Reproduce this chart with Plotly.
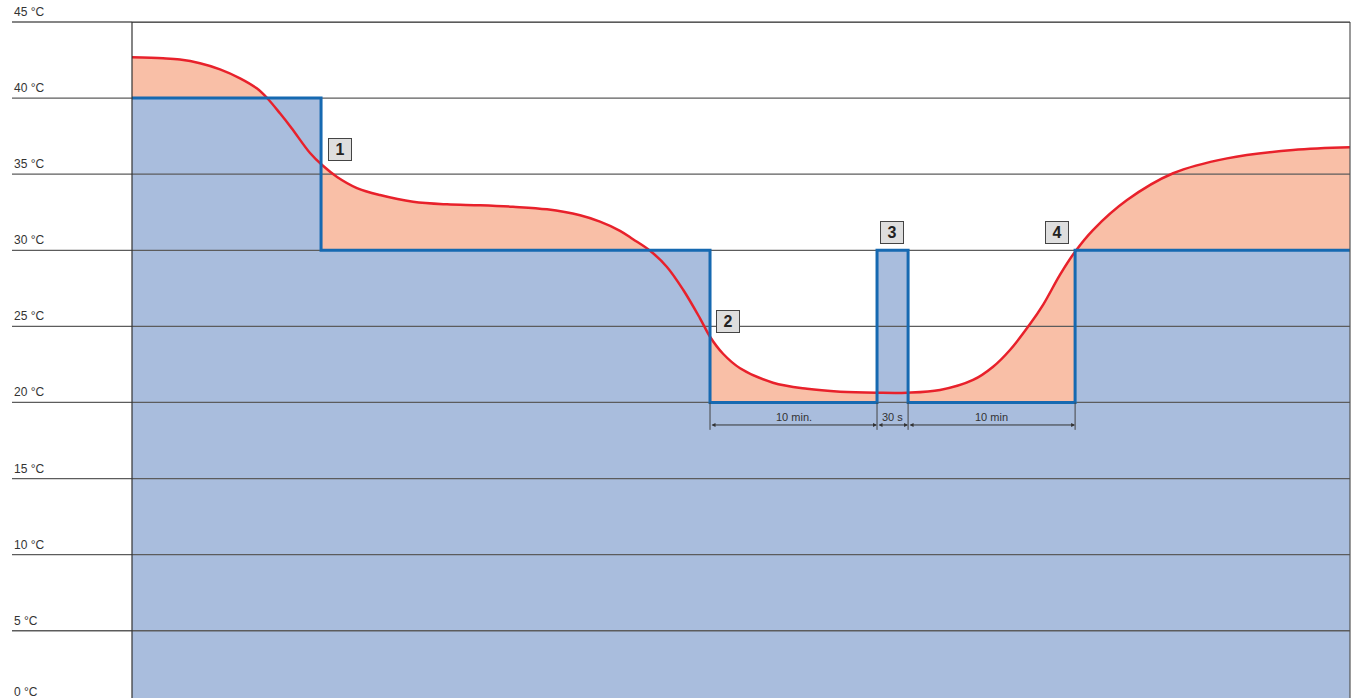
import plotly.graph_objects as go

# ---- data (time in minutes, schematic; temperatures in °C) ----
curve_t = [0, 1.86, 2.87, 4.07, 5.27, 6.47, 7.47, 8.10, 8.86, 9.56, 10.66, 11.38, 12.28, 13.47, 14.85,
           16.83, 18.86, 20.84, 22.81, 24.85, 26.83, 28.02, 29.22, 30.0, 31.02, 32.02, 33.01, 34.01,
           34.61, 35.39, 36.41, 38.38, 40.42, 42.40, 44.61, 46.41, 48.38, 50.36, 51.56, 52.57,
           53.77, 54.57, 55.57, 56.47, 57.54, 59.58, 62.34, 65.57, 69.52, 72.93]
curve_temp = [42.68, 42.61, 42.53, 42.29, 41.89, 41.30, 40.64, 39.99, 39.00, 38.02, 36.39, 35.60, 34.82, 34.09, 33.63,
              33.19, 33.02, 32.96, 32.86, 32.69, 32.30, 31.88, 31.28, 30.73, 29.97, 28.92, 27.39, 25.53,
              24.32, 23.20, 22.25, 21.30, 20.90, 20.71, 20.64, 20.64, 20.82, 21.48, 22.35, 23.45,
              25.15, 26.45, 28.40, 29.91, 31.33, 33.30, 35.06, 36.04, 36.59, 36.77]

step_t = [0, 11.32, 34.61, 44.61, 46.47, 56.47, 72.93]
step_temp = [40, 30, 20, 30, 20, 30, 30]

grid_values = [0, 5, 10, 15, 20, 25, 30, 35, 40, 45]
grid_labels = ["0 °C", "5 °C", "10 °C", "15 °C", "20 °C", "25 °C", "30 °C", "35 °C", "40 °C", "45 °C"]

markers = ["1", "2", "3", "4"]
marker_t = [12.45, 35.7, 45.5, 55.4]
marker_temp = [36.65, 25.35, 31.2, 31.2]

dim_start = [34.61, 44.61, 46.47]
dim_end = [44.61, 46.47, 56.47]
dim_labels = ["10 min.", "30 s", "10 min"]

# ---- styling ----
X_MAX = 72.93
Y_MIN, Y_MAX = 0.58, 45
BLUE_FILL = "#a9bddd"
SALMON = "#f9bfa7"
RED = "#e8212b"
BLUE_LINE = "#1669b1"
GRID = "#5c5c5c"
TXT = "#333333"
FONT = "Liberation Sans, Arial, sans-serif"
SMOOTH = 1.0

fig = go.Figure()

# salmon under the curve
fig.add_trace(go.Scatter(x=curve_t, y=curve_temp, mode="lines",
                         line=dict(width=0, shape="spline", smoothing=SMOOTH),
                         fill="tozeroy", fillcolor=SALMON, hoverinfo="skip", showlegend=False))
# blue under the step
fig.add_trace(go.Scatter(x=step_t, y=step_temp, mode="lines", line=dict(width=0, shape="hv"),
                         fill="tozeroy", fillcolor=BLUE_FILL, hoverinfo="skip", showlegend=False))
# gridlines inside the plot
for v in grid_values:
    fig.add_trace(go.Scatter(x=[0, X_MAX], y=[v, v], mode="lines", line=dict(color=GRID, width=1.3),
                             hoverinfo="skip", showlegend=False))
# red curve
fig.add_trace(go.Scatter(x=curve_t, y=curve_temp, mode="lines",
                         line=dict(color=RED, width=2.5, shape="spline", smoothing=SMOOTH),
                         hoverinfo="skip", showlegend=False))
# blue step line
fig.add_trace(go.Scatter(x=step_t, y=step_temp, mode="lines", line=dict(color=BLUE_LINE, width=3, shape="hv"),
                         hoverinfo="skip", showlegend=False))

def py(v):
    return (v - Y_MIN) / (Y_MAX - Y_MIN)

left_ext = -120 / 1218
shapes = []
annotations = []
for v, lab in zip(grid_values, grid_labels):
    shapes.append(dict(type="line", xref="paper", yref="paper", x0=left_ext, x1=0, y0=py(v), y1=py(v),
                       line=dict(color=GRID, width=1.3)))
    annotations.append(dict(xref="paper", yref="paper", x=left_ext, y=py(v), text=lab, showarrow=False,
                            xanchor="left", yanchor="bottom", yshift=6 if v == 0 else 1,
                            font=dict(size=12, color=TXT, family=FONT)))

# frame
shapes.append(dict(type="line", xref="paper", yref="paper", x0=0, x1=0, y0=0, y1=1, line=dict(color="#333", width=1.2)))
shapes.append(dict(type="line", xref="paper", yref="paper", x0=1, x1=1, y0=0, y1=1, line=dict(color="#555", width=1.2)))
shapes.append(dict(type="line", xref="paper", yref="paper", x0=0, x1=1, y0=1, y1=1, line=dict(color="#333", width=1.2)))

# dimension lines
DIM_Y = 18.52
for xs in sorted(set(dim_start + dim_end)):
    shapes.append(dict(type="line", xref="x", yref="y", x0=xs, x1=xs, y0=20, y1=18.2,
                       line=dict(color="#444", width=1)))
for a, b, lab in zip(dim_start, dim_end, dim_labels):
    annotations.append(dict(x=b, y=DIM_Y, ax=a, ay=DIM_Y, xref="x", yref="y", axref="x", ayref="y",
                            text="", showarrow=True, arrowhead=2, arrowside="end+start", arrowsize=0.8,
                            arrowwidth=1, arrowcolor="#333"))
    annotations.append(dict(x=(a + b) / 2, y=19.05, xref="x", yref="y", text=lab, showarrow=False,
                            font=dict(size=11, color=TXT, family=FONT)))

# numbered boxes
for m, t, v in zip(markers, marker_t, marker_temp):
    annotations.append(dict(x=t, y=v, xref="x", yref="y", text="<b>" + m + "</b>", showarrow=False,
                            bgcolor="#dedede", bordercolor="#444", borderwidth=1, borderpad=1,
                            width=20, height=19, font=dict(size=16, color="#222", family=FONT)))

fig.update_layout(
    width=1353, height=698,
    margin=dict(l=132, r=3, t=22, b=0),
    paper_bgcolor="white", plot_bgcolor="white",
    xaxis=dict(range=[0, X_MAX], showgrid=False, zeroline=False, showticklabels=False, showline=False, ticks=""),
    yaxis=dict(range=[Y_MIN, Y_MAX], showgrid=False, zeroline=False, showticklabels=False, showline=False, ticks=""),
    shapes=shapes, annotations=annotations, showlegend=False,
)

fig.write_html("out.html", config={"displayModeBar": False},
               post_script="document.body.style.margin='0';document.body.style.overflow='hidden';")
